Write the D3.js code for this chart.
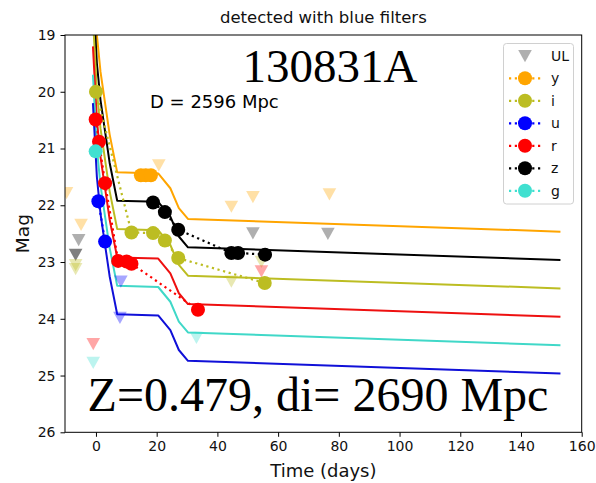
<!DOCTYPE html>
<html>
<head>
<meta charset="utf-8">
<script src="https://cdn.jsdelivr.net/npm/d3@7"></script>
<style>
  html, body { margin: 0; padding: 0; background: #fff; }
  svg { display: block; }
</style>
</head>
<body>
<svg id="chart" width="596" height="483"></svg>
<script>
// ---- filters ----
const filters = ["y", "i", "u", "r", "z", "g"];
const filterColors = {
  y: "#ffa500", i: "#bcbd22", u: "#0000ff", r: "#ff0000", z: "#000000", g: "#40e0d0"
};
const modelColors = {
  y: "#ffa500", i: "#bcbd22", u: "#1010d8", r: "#ee1010", z: "#000000", g: "#40d8c8"
};

// ---- model light curve (y band), other bands are vertical offsets ----
const modelDays = [-1.0, 0.3, 1.5, 4.5, 7.0, 20.5, 24.5, 27.3, 30.3, 153.0];
const modelMagY = [17.7, 19.0, 19.65, 20.75, 21.42, 21.44, 21.70, 22.05, 22.24, 22.465];
const modelOffsets = { y: 0.0, z: 0.5, i: 1.0, r: 1.5, g: 2.0, u: 2.5 };
const modelOrder = ["y", "z", "i", "r", "g", "u"];

// ---- detections (day, mag) ----
const detY = { days: [14.8, 16.4, 18.1], mags: [21.47, 21.47, 21.47] };
const detI = { days: [0.0, 11.7, 18.8, 22.7, 27.1, 55.6], mags: [20.0, 22.48, 22.49, 22.62, 22.93, 23.37] };
const detU = { days: [0.8, 3.0], mags: [21.93, 22.64] };
const detR = { days: [-0.1, 1.0, 3.0, 7.3, 10.1, 11.7, 33.6], mags: [20.49, 20.88, 21.61, 22.98, 22.99, 23.03, 23.84] };
const detZ = { days: [18.8, 22.7, 27.1, 44.6, 46.8, 55.7], mags: [21.95, 22.12, 22.43, 22.84, 22.84, 22.87] };
const detG = { days: [-0.1], mags: [21.05] };
const detections = { y: detY, i: detI, u: detU, r: detR, z: detZ, g: detG };

// ---- upper limits (band, day, mag); "UL" = generic grey ----
const ulBands = ["y", "y", "y", "y", "y", "y", "UL", "UL", "UL", "z", "i", "i", "i", "i", "r", "r", "g", "g", "u", "u"];
const ulDays  = [-9.7, -4.9, 20.7, 44.6, 51.7, 76.9, -5.7, 51.7, 76.4, -6.7, -6.7, -6.7, 44.6, 54.5, -0.9, 54.5, -0.9, 33.1, 8.2, 7.9];
const ulMags  = [21.78, 22.34, 21.29, 22.02, 21.85, 21.80, 22.61, 22.49, 22.50, 22.87, 23.05, 23.12, 23.34, 22.99, 24.44, 23.16, 24.77, 24.33, 23.34, 23.98];

// ---- axes ----
const xDomain = [-10.2, 160];
const yDomain = [19, 26];
const xTicks = [0, 20, 40, 60, 80, 100, 120, 140, 160];
const yTicks = [19, 20, 21, 22, 23, 24, 25, 26];

const titleText = "detected with blue filters";
const grbName = "130831A";
const distText = "D = 2596 Mpc";
const redshiftText = "Z=0.479, di= 2690 Mpc";
const legendLabels = ["UL", "y", "i", "u", "r", "z", "g"];

const svg = d3.select("#chart");
const plot = { left: 65, right: 581.7, top: 35, bottom: 432.3 };

const x = d3.scaleLinear().domain(xDomain).range([plot.left, plot.right]);
const y = d3.scaleLinear().domain(yDomain).range([plot.top, plot.bottom]);

svg.append("defs").append("clipPath").attr("id", "plotClip")
  .append("rect")
  .attr("x", plot.left).attr("y", plot.top)
  .attr("width", plot.right - plot.left).attr("height", plot.bottom - plot.top);

const body = svg.append("g").attr("clip-path", "url(#plotClip)");

// model curves
const modelLine = d3.line().x(d => x(d[0])).y(d => y(d[1]));
modelOrder.forEach(b => {
  const pts = modelDays.map((t, k) => [t, modelMagY[k] + modelOffsets[b]]);
  body.append("path")
    .attr("d", modelLine(pts))
    .attr("fill", "none")
    .attr("stroke", modelColors[b])
    .attr("stroke-width", 2)
    .attr("stroke-linejoin", "round");
});

// triangle marker (pointing down)
const triR = 6.8;
const triPath = `M${-triR},${-triR * 0.85}L${triR},${-triR * 0.85}L0,${triR * 0.95}Z`;

// upper limits
ulBands.forEach((b, k) => {
  const col = b === "UL" ? "#6e6e6e" : filterColors[b];
  body.append("path")
    .attr("d", triPath)
    .attr("transform", `translate(${x(ulDays[k])},${y(ulMags[k])})`)
    .attr("fill", col)
    .attr("fill-opacity", b === "UL" ? 0.55 : (b === "z" ? 0.5 : 0.35));
});

// detections with dotted connectors
const detOrder = ["y", "i", "r", "u", "g", "z"];
detOrder.forEach(b => {
  const d = detections[b];
  const pts = d.days.map((t, k) => [t, d.mags[k]]);
  if (pts.length > 1) {
    body.append("path")
      .attr("d", modelLine(pts))
      .attr("fill", "none")
      .attr("stroke", filterColors[b])
      .attr("stroke-width", 2.2)
      .attr("stroke-dasharray", "2.2,3.6");
  }
  body.selectAll(null).data(pts).enter().append("circle")
    .attr("cx", p => x(p[0]))
    .attr("cy", p => y(p[1]))
    .attr("r", 7)
    .attr("fill", filterColors[b]);
});

// axes
const fontSans = "'DejaVu Sans', sans-serif";
const xAxis = svg.append("g")
  .attr("transform", `translate(0,${plot.bottom})`)
  .call(d3.axisBottom(x).tickValues(xTicks).tickSize(4.5).tickPadding(4).tickFormat(d3.format("d")));
const yAxis = svg.append("g")
  .attr("transform", `translate(${plot.left},0)`)
  .call(d3.axisLeft(y).tickValues(yTicks).tickSize(4.5).tickPadding(5).tickFormat(d3.format("d")));
[xAxis, yAxis].forEach(ax => {
  ax.select(".domain").remove();
  ax.selectAll("line").attr("stroke", "#000").attr("stroke-width", 1);
  ax.selectAll("text").attr("font-family", fontSans).attr("font-size", 14).attr("fill", "#111");
});

// frame
svg.append("rect")
  .attr("x", plot.left).attr("y", plot.top)
  .attr("width", plot.right - plot.left).attr("height", plot.bottom - plot.top)
  .attr("fill", "none").attr("stroke", "#000").attr("stroke-width", 1);

// titles
svg.append("text")
  .attr("x", (plot.left + plot.right) / 2).attr("y", 23)
  .attr("text-anchor", "middle")
  .attr("font-family", fontSans).attr("font-size", 16.5).attr("fill", "#111")
  .text(titleText);

svg.append("text")
  .attr("x", (plot.left + plot.right) / 2).attr("y", 477)
  .attr("text-anchor", "middle")
  .attr("font-family", fontSans).attr("font-size", 18).attr("fill", "#111")
  .text("Time (days)");

svg.append("text")
  .attr("transform", `translate(29,${(plot.top + plot.bottom) / 2}) rotate(-90)`)
  .attr("text-anchor", "middle")
  .attr("font-family", fontSans).attr("font-size", 18.5).attr("fill", "#111")
  .text("Mag");

// annotations
const fontSerif = "'Liberation Serif', 'Times New Roman', serif";
svg.append("text")
  .attr("x", 330).attr("y", 82)
  .attr("text-anchor", "middle")
  .attr("font-family", fontSerif).attr("font-size", 47).attr("fill", "#000")
  .text(grbName);

svg.append("text")
  .attr("x", 150).attr("y", 108)
  .attr("font-family", fontSans).attr("font-size", 18).attr("fill", "#000")
  .text(distText);

svg.append("text")
  .attr("x", 318).attr("y", 411)
  .attr("text-anchor", "middle")
  .attr("font-family", fontSerif).attr("font-size", 48).attr("fill", "#000")
  .text(redshiftText);

// legend
const lg = svg.append("g");
lg.append("rect")
  .attr("x", 503.5).attr("y", 43.5).attr("width", 70).attr("height", 160.5)
  .attr("rx", 3).attr("fill", "#fff").attr("fill-opacity", 0.8)
  .attr("stroke", "#d0d0d0").attr("stroke-width", 1);
legendLabels.forEach((lab, k) => {
  const cy = 55.8 + k * 22.5;
  if (lab === "UL") {
    lg.append("path").attr("d", triPath)
      .attr("transform", `translate(525,${cy})`)
      .attr("fill", "#6e6e6e").attr("fill-opacity", 0.55);
  } else {
    lg.append("line")
      .attr("x1", 509).attr("x2", 541).attr("y1", cy).attr("y2", cy)
      .attr("stroke", filterColors[lab]).attr("stroke-width", 2.2)
      .attr("stroke-dasharray", "2.2,3.6");
    lg.append("circle").attr("cx", 525).attr("cy", cy).attr("r", 7)
      .attr("fill", filterColors[lab]);
  }
  lg.append("text")
    .attr("x", 551).attr("y", cy + 4.8)
    .attr("font-family", fontSans).attr("font-size", 14).attr("fill", "#111")
    .text(lab);
});
</script>
</body>
</html>
